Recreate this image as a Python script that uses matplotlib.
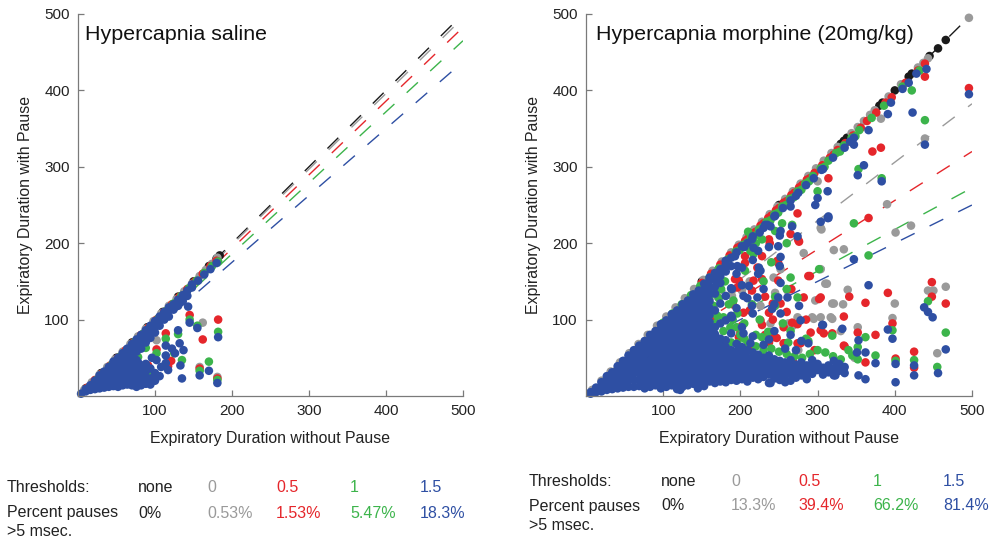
import matplotlib
matplotlib.use("Agg")
import matplotlib.pyplot as plt

plt.rcParams['font.family'] = ['Liberation Sans', 'DejaVu Sans']

# colours per threshold
thr_colors = {'none': '#1a1a1a', '0': '#9a9a9a', '0.5': '#e5262b', '1': '#3cb44b', '1.5': '#2e4fa3'}
thr_order = ['none', '0', '0.5', '1', '1.5']

# slopes of dashed fit lines per threshold
saline_slopes = [1.0, 0.99, 0.965, 0.93, 0.875]
morph_slopes = [1.0, 0.765, 0.64, 0.545, 0.50]

# percent pauses > 5 msec
saline_pct = ['0%', '0.53%', '1.53%', '5.47%', '18.3%']
morph_pct = ['0%', '13.3%', '39.4%', '66.2%', '81.4%']
thr_labels = ['none', '0', '0.5', '1', '1.5']

# ---- Hypercapnia saline: (x, [y, ...]) columns ----
sal_black = [(10, [10]), (30, [30]), (50, [50]), (70, [70]), (90, [90]), (110, [110]),
             (130, [130]), (150, [150]), (170, [170]), (180, [180]), (184, [184])]
sal_gray = [(8, [8]), (18, [18]), (28, [28]), (38, [38]), (48, [48]), (58, [58]), (68, [68]),
            (78, [78]), (88, [88]), (98, [98]), (108, [108]), (118, [118]), (128, [127]),
            (138, [137]), (148, [147]), (158, [157]), (166, [165]), (174, [173]), (181, [181]),
            (102, [73]), (162, [96]), (158, [38]), (181, [25])]
sal_red = [(12, [11]), (22, [21]), (32, [30]), (42, [40]), (52, [50]), (62, [60]), (72, [70]),
           (82, [80]), (92, [90]), (102, [100]), (112, [110]), (122, [120]), (132, [130]),
           (142, [140]), (152, [150]), (162, [160]), (172, [170]), (180, [177]),
           (145, [106]), (162, [74]), (182, [100]), (102, [61]), (114, [82]), (117, [39]),
           (91, [40]), (158, [36]), (181, [23]), (121, [46])]
sal_green = [(14, [11]), (24, [21]), (34, [31]), (44, [41]), (54, [51]), (64, [61]), (74, [71]),
             (84, [81]), (94, [91]), (104, [101]), (114, [111]), (124, [121]), (134, [131]),
             (144, [141]), (154, [151]), (164, [161]), (174, [170]), (182, [176]),
             (145, [100]), (155, [92]), (182, [84]), (170, [45]), (158, [33]), (181, [21]),
             (102, [56]), (114, [75]), (130, [81]), (135, [47]), (78, [51]), (125, [56]),
             (88, [63]), (62, [42]), (94, [30])]
sal_blue = [(4, [3]), (10, [6, 9]), (16, [8, 14]), (22, [9, 15, 20]), (28, [10, 17, 24, 27]),
            (34, [11, 18, 25, 32]), (40, [12, 19, 26, 33, 38]), (46, [13, 20, 27, 34, 40, 45]),
            (52, [12, 20, 28, 35, 42, 50]), (58, [14, 22, 29, 36, 43, 50, 56]),
            (64, [15, 22, 30, 38, 45, 52, 62]), (70, [14, 21, 29, 37, 44, 53, 60, 68]),
            (76, [12, 20, 28, 36, 47, 58, 66, 74]), (82, [14, 22, 30, 40, 62, 71, 80]),
            (88, [16, 24, 32, 42, 70, 78, 86]), (94, [15, 23, 36, 76, 84, 92]),
            (100, [20, 30, 83, 90, 98]), (106, [26, 92, 99, 104]), (112, [100, 106, 110]),
            (118, [104, 112, 116]), (124, [113, 120]), (130, [118, 126]), (136, [124, 132]),
            (142, [131, 138]), (148, [142, 146]), (156, [151]), (164, [159]), (172, [166]),
            (180, [174]),
            (143, [117]), (145, [96]), (155, [89]), (182, [77]), (170, [33]), (158, [27]),
            (181, [17]), (135, [23]), (130, [86]), (102, [47]), (114, [66, 53, 43]),
            (117, [34]), (126, [56]), (132, [69]), (137, [60]), (133, [40]), (78, [44]),
            (108, [38]), (122, [62]), (96, [50])]

# ---- Hypercapnia morphine (20mg/kg) ----
morph_black = [(330, [330]), (334, [334]), (338, [338]), (380, [380]), (384, [384]),
               (400, [400]), (418, [418]), (422, [422]), (445, [445]), (456, [455]),
               (466, [466]), (150, [150]), (250, [250])]
morph_gray = [(8, [8]), (20, [20]), (32, [32]), (44, [44]), (56, [56]), (68, [68]), (80, [80]),
              (92, [92]), (104, [104]), (116, [116]), (128, [128]), (140, [140]), (152, [152]),
              (164, [164]), (176, [176]), (188, [188]), (198, [198]), (208, [208]), (218, [218]),
              (228, [228]), (238, [238]), (248, [248]), (258, [258]), (268, [268]), (278, [278]),
              (288, [288]), (298, [298]), (308, [308]), (318, [318]), (326, [326]), (344, [344]),
              (352, [352]), (360, [360]), (368, [368]), (374, [374]), (392, [392]), (408, [408]),
              (430, [430]), (437, [436]), (443, [442]), (496, [495]),
              (305, [218]), (321, [191, 121]), (334, [192]), (282, [187]), (304, [166, 220, 103]),
              (310, [147]), (252, [166]), (243, [155]), (245, [135]), (297, [125]),
              (319, [121, 101]), (333, [120]), (339, [139]), (293, [103]), (239, [95]),
              (262, [95]), (268, [92]), (352, [90]), (397, [102]), (400, [121]),
              (443, [138]), (450, [138]), (466, [143]), (455, [56]), (390, [251]),
              (401, [214]), (421, [223]), (439, [337]), (382, [363]), (189, [138, 131]),
              (300, [281]), (226, [118]), (212, [150]), (275, [60]), (330, [85]), (348, [50]),
              (202, [138]), (261, [138]), (274, [103]), (317, [103]), (295, [101]),
              (312, [147])]
morph_red = [(150, [148]), (162, [160]), (174, [172]), (186, [184]), (196, [194]), (206, [203]),
             (216, [213]), (226, [223]), (236, [233]), (246, [243]), (256, [253]), (266, [263]),
             (276, [273]), (286, [283]), (296, [292]), (306, [302]), (316, [312]), (326, [322]),
             (336, [331]), (346, [341]), (356, [351]), (364, [360]), (376, [371]), (388, [384]),
             (396, [391]), (414, [410]), (430, [426]), (439, [435]),
             (200, [196]), (210, [206]), (220, [215]), (230, [226]), (240, [236]),
             (250, [246]), (260, [255]), (270, [266]), (280, [276]), (290, [285]),
             (274, [239, 94, 69]), (275, [204]), (248, [177]), (249, [151, 174]),
             (242, [121, 100]), (243, [77]), (256, [90, 69]), (282, [129]), (290, [157]),
             (304, [129, 86]), (308, [82]), (319, [82]), (334, [104, 66]), (335, [65]),
             (352, [83]), (206, [183, 174]), (217, [151]), (226, [99]), (228, [93, 183, 153]),
             (200, [83]), (196, [142]), (165, [99]), (122, [12]), (466, [121]),
             (448, [149, 130]), (425, [58, 37]), (401, [49]), (397, [95]), (391, [135]),
             (375, [80]), (366, [233]), (362, [122, 44]), (341, [130]), (382, [325]),
             (371, [320]), (496, [403]), (439, [418]), (314, [285]), (321, [316]),
             (212, [112]), (232, [130]), (260, [110]), (266, [140]), (222, [168]),
             (238, [200]), (285, [100]), (296, [60]), (214, [60]), (222, [44]), (232, [80]),
             (180, [70]), (190, [120]), (268, [45]),
             (265, [212]), (276, [202]), (198, [151, 77]), (215, [138]), (302, [127]),
             (288, [157]), (252, [121]), (237, [109, 70, 205]), (267, [96]), (239, [83]),
             (247, [76]), (291, [83]), (278, [69]), (258, [69]), (193, [153]),
             (204, [109]), (202, [92])]
morph_green = [(100, [96]), (112, [108]), (124, [120]), (136, [132]), (148, [144]),
               (160, [155]), (172, [167]), (184, [179]), (194, [189]), (204, [198]),
               (214, [208]), (224, [218]), (234, [228]), (244, [238]), (254, [248]),
               (264, [258]), (274, [268]), (284, [278]), (294, [288]), (304, [298]),
               (314, [308]), (324, [318]), (334, [328]), (344, [338]), (354, [348]),
               (370, [364]), (386, [380]), (410, [405]), (432, [426]),
               (199, [191]), (209, [201]), (219, [210]), (229, [221]), (239, [230]),
               (249, [240]), (259, [250]), (269, [260]), (279, [270]), (289, [281]),
               (309, [300]), (329, [320]), (349, [340]), (213, [190, 203]), (228, [205, 77]),
               (160, [130]), (165, [118]), (170, [105]), (168, [95, 135]), (175, [140]),
               (180, [150]), (185, [120]), (190, [100]), (195, [90]), (200, [80]),
               (205, [75, 95]), (210, [70]), (220, [65, 80]), (230, [60]), (240, [62]),
               (250, [58]), (260, [55, 140]), (270, [52]), (280, [50]), (290, [55]),
               (300, [60]), (310, [57]), (320, [52]), (330, [48]), (340, [60]),
               (345, [53]), (352, [64, 48]), (362, [77]), (375, [53]), (397, [86]),
               (401, [46]), (425, [47]), (439, [361]), (422, [400]), (455, [38]),
               (466, [83]), (443, [124]), (366, [184]), (347, [226]), (300, [268]),
               (230, [150]), (245, [130, 118, 216]), (215, [120]), (225, [100]), (255, [95]),
               (265, [85, 155]), (285, [75]), (240, [175]), (260, [200]), (210, [215]),
               (220, [200]), (140, [85]), (145, [100]), (150, [70]), (130, [60]),
               (120, [55]), (72, [17]), (155, [112]), (158, [125]), (178, [85, 103]),
               (188, [70]), (196, [108, 69]), (236, [84]), (262, [70]), (250, [40]),
               (278, [30]), (383, [285]), (353, [297]),
               (267, [224]), (217, [186]), (206, [164]), (274, [129]), (288, [72]),
               (319, [79]), (302, [166]), (191, [125]), (187, [90]), (172, [128]),
               (254, [226])]
morph_blue = [(6, [3, 5]), (13, [5, 11]), (20, [6, 13, 18]), (27, [8, 15, 22, 26]),
              (34, [9, 16, 24, 31]), (41, [10, 18, 26, 33, 39]),
              (48, [11, 19, 27, 35, 43, 46]), (55, [12, 20, 28, 37, 45, 53]),
              (62, [12, 21, 30, 38, 47, 55, 60]), (69, [13, 22, 31, 40, 49, 58, 66]),
              (76, [10, 18, 27, 36, 45, 54, 63, 72]), (83, [12, 20, 29, 38, 47, 56, 65, 74, 80]),
              (90, [14, 22, 31, 40, 49, 58, 67, 76, 85]),
              (97, [10, 17, 25, 34, 43, 52, 61, 70, 79, 88, 94]),
              (104, [12, 19, 27, 36, 45, 54, 63, 72, 81, 90, 99]),
              (111, [14, 21, 29, 38, 47, 56, 65, 74, 83, 92, 101, 107]),
              (118, [9, 16, 23, 31, 40, 49, 58, 67, 76, 85, 94, 103, 112]),
              (125, [12, 18, 25, 33, 42, 51, 60, 69, 78, 87, 96, 105, 114, 120]),
              (132, [14, 20, 27, 35, 44, 53, 62, 71, 80, 89, 98, 107, 116, 125]),
              (139, [16, 22, 29, 37, 46, 55, 64, 73, 82, 91, 100, 109, 118, 127, 133]),
              (146, [18, 24, 31, 39, 48, 57, 66, 75, 84, 93, 102, 111, 120, 129, 138]),
              (153, [13, 20, 26, 33, 41, 50, 59, 68, 77, 86, 95, 104, 113, 122, 131, 140, 147]),
              (160, [19, 28, 35, 43, 52, 61, 70, 79, 88, 97, 106, 115, 124, 133, 142, 151, 155]),
              (167, [17, 24, 30, 37, 45, 54, 63, 72, 81, 90, 112, 134, 143, 152, 161]),
              (174, [19, 27, 33, 40, 48, 57, 66, 75, 95, 121, 148, 157, 166]),
              (181, [18, 25, 32, 39, 46, 55, 64, 73, 99, 131, 163, 172, 177]),
              (188, [21, 28, 35, 43, 51, 60, 82, 105, 141, 170, 181]),
              (195, [20, 27, 34, 42, 50, 58, 68, 115, 160, 188]),
              (202, [22, 30, 38, 46, 55, 64, 90, 145, 168, 196]),
              (209, [19, 26, 34, 42, 50, 60, 128, 200]),
              (216, [24, 32, 40, 48, 57, 78, 108, 178, 209]),
              (223, [22, 30, 37, 45, 54, 160, 190]),
              (230, [25, 33, 41, 50, 67, 140, 220]),
              (237, [17, 28, 36, 45, 53, 74, 195]),
              (244, [23, 31, 40, 48, 85, 120, 235]),
              (251, [21, 29, 38, 46, 170, 210]),
              (258, [18, 27, 35, 44, 62]),
              (265, [20, 30, 38, 47, 80, 248]),
              (272, [24, 33, 41, 60, 262]),
              (279, [27, 36, 44, 72]),
              (286, [22, 31, 40]),
              (293, [29, 38, 47]),
              (300, [34, 42, 259]),
              (307, [28, 37, 93, 297]),
              (314, [31, 40, 233, 235]),
              (321, [27, 36, 46]),
              (328, [33, 42]),
              (335, [30, 38, 325]),
              (205, [195]), (215, [205, 118]), (225, [214]), (235, [224]), (245, [236]),
              (255, [246]), (265, [256]), (275, [266]), (285, [276]), (295, [285]),
              (305, [296]), (320, [312]), (342, [333]), (347, [338]),
              (347, [179, 329]), (366, [145, 348]), (375, [43]), (353, [27, 73]),
              (351, [57]), (362, [57, 22]), (397, [75]), (391, [87, 369]), (401, [18, 42]),
              (425, [27, 40]), (456, [30]), (466, [61]), (449, [103]), (438, [116]),
              (443, [110]), (383, [281]), (360, [302]), (352, [289]), (439, [329]),
              (423, [371]), (496, [395]), (441, [428]), (418, [410]), (395, [384]),
              (313, [233, 268]), (283, [27]), (304, [34, 228]), (323, [27]), (334, [36]),
              (239, [17, 222]), (145, [10]), (122, [8]), (306, [93]), (332, [88]),
              (410, [402]), (428, [422]),
              (297, [250]), (267, [222]), (274, [209]), (249, [196, 129]),
              (252, [216, 182, 148, 108]), (217, [194]), (224, [168]), (226, [164]),
              (211, [144]), (204, [131, 82]), (222, [129]), (261, [129]), (276, [118]),
              (241, [114]), (278, [99]), (288, [69]), (193, [183]), (196, [170]),
              (189, [140, 103]), (213, [69]), (232, [224])]


def expand(cols):
    xs = [x for x, ys in cols for _ in ys]
    ys = [y for _, yl in cols for y in yl]
    return xs, ys


def draw_panel(ax, groups, slopes):
    for key, k in zip(thr_order, slopes):
        ax.plot([0, 500], [0, 500 * k], color=thr_colors[key], lw=1.0,
                dashes=(11, 12), zorder=1)
    for key, cols in zip(thr_order, groups):
        xs, ys = expand(cols)
        ax.scatter(xs, ys, s=38, color=thr_colors[key], edgecolors='none',
                   zorder=2, clip_on=False)
    ax.set_xlim(0, 500)
    ax.set_ylim(0, 500)
    ax.set_xticks([100, 200, 300, 400, 500])
    ax.set_yticks([100, 200, 300, 400, 500])
    for side in ['top', 'right']:
        ax.spines[side].set_visible(False)
    for side in ['left', 'bottom']:
        ax.spines[side].set_color('#7a7a7a')
        ax.spines[side].set_linewidth(0.9)
    ax.tick_params(direction='in', length=4, width=0.9, color='#7a7a7a',
                   labelsize=11, labelcolor='#222222', pad=6)
    ax.set_xlabel('Expiratory Duration without Pause', fontsize=11.4, color='#222222',
                  labelpad=9)
    ax.set_ylabel('Expiratory Duration with Pause', fontsize=11.4, color='#222222',
                  labelpad=8)


fig = plt.figure(figsize=(9.9, 5.41), dpi=100)
W, H = 990.0, 541.0

ax1 = fig.add_axes([78 / W, (H - 396) / H, 385 / W, 382 / H])
draw_panel(ax1, [sal_black, sal_gray, sal_red, sal_green, sal_blue], saline_slopes)
ax2 = fig.add_axes([586 / W, (H - 396) / H, 386 / W, 382 / H])
draw_panel(ax2, [morph_black, morph_gray, morph_red, morph_green, morph_blue], morph_slopes)

fig.text(85 / W, 1 - 35 / H, 'Hypercapnia saline', fontsize=15.4, va='center', color='#111111')
fig.text(596 / W, 1 - 35 / H, 'Hypercapnia morphine (20mg/kg)', fontsize=15.4, va='center',
         color='#111111')


def bottom_table(x0, cols_x, y1, y2, y3, pct):
    fs = 11.5
    fig.text(x0 / W, 1 - y1 / H, 'Thresholds:', fontsize=fs, va='center', color='#222222')
    fig.text(x0 / W, 1 - y2 / H, 'Percent pauses', fontsize=fs, va='center', color='#222222')
    fig.text(x0 / W, 1 - y3 / H, '>5 msec.', fontsize=fs, va='center', color='#222222')
    for cx, lab, p, key in zip(cols_x, thr_labels, pct, thr_order):
        c = '#222222' if key == 'none' else thr_colors[key]
        fig.text(cx / W, 1 - y1 / H, lab, fontsize=fs, va='center', color=c)
        fig.text(cx / W, 1 - y2 / H, p, fontsize=fs, va='center', color=c)


bottom_table(7, [138, 207, 276, 350, 420], 488, 513, 532, saline_pct)
bottom_table(529, [661, 731, 798, 873, 943], 482, 506, 525, morph_pct)

fig.savefig('out.png', dpi=100)
